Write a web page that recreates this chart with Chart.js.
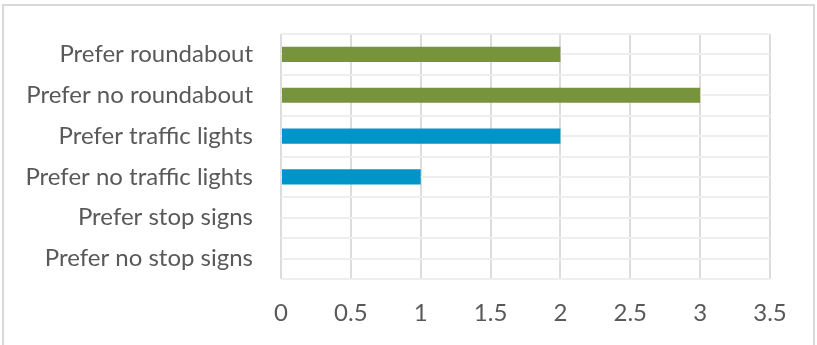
<!DOCTYPE html>
<html lang="en">
<head>
    <meta charset="UTF-8">
    <title>Preferences</title>
    <script src="https://cdn.jsdelivr.net/npm/chart.js"></script>
    <style>
        body { margin: 0; background: #fff; }
        #wrap { position: absolute; left: 0; top: 0; width: 817px; height: 345px; }
        #frame {
            position: absolute; left: 2px; top: 4px; width: 809px; height: 350px;
            border: 2px solid #d9d9d9; pointer-events: none;
        }
    </style>
</head>
<body>
    <div id="wrap"><canvas id="chart"></canvas></div>
    <div id="frame"></div>

    <script>
        const categories = ['Prefer roundabout', 'Prefer no roundabout', 'Prefer traffic lights',
            'Prefer no traffic lights', 'Prefer stop signs', 'Prefer no stop signs'];
        const values = [2, 3, 2, 1, 0, 0];
        const barColors = ['#77933c', '#77933c', '#0095c8', '#0095c8', '#0095c8', '#0095c8'];
        // Excel draws a gridline every half category
        const halfSlots = ['', '', '', '', '', '', '', '', '', '', '', ''];

        const ctx = document.getElementById('chart').getContext('2d');
        new Chart(ctx, {
            type: 'bar',
            data: {
                labels: categories,
                datasets: [{
                    data: values,
                    backgroundColor: barColors,
                    categoryPercentage: 1,
                    barPercentage: 0.37
                }]
            },
            options: {
                indexAxis: 'y',
                responsive: true,
                maintainAspectRatio: false,
                animation: false,
                layout: { padding: { top: 34, right: 47, bottom: 0, left: 0 } },
                plugins: { legend: { display: false }, tooltip: { enabled: false } },
                scales: {
                    x: {
                        min: 0, max: 3.5,
                        ticks: { stepSize: 0.5, color: '#595959', padding: 20,
                            font: { family: 'Lato', size: 24 },
                            callback: v => String(v) },
                        grid: { color: '#dcdcdc', lineWidth: 2, drawTicks: false },
                        border: { display: false },
                        afterFit: s => { s.height = 66; }
                    },
                    y: {
                        ticks: { color: '#595959', padding: 28,
                            font: { family: 'Lato', size: 24 } },
                        grid: { display: false, drawTicks: false },
                        border: { display: false },
                        afterFit: s => { s.width = 281; s.paddingTop = 0; s.paddingBottom = 0; }
                    },
                    yGrid: {
                        type: 'category',
                        labels: halfSlots,
                        position: 'right',
                        offset: true,
                        ticks: { display: false },
                        grid: { color: '#eeeeee', lineWidth: 2, drawTicks: false, offset: true },
                        border: { display: false },
                        afterFit: s => { s.width = 0; s.paddingTop = 0; s.paddingBottom = 0; }
                    }
                }
            }
        });
    </script>
</body>
</html>
